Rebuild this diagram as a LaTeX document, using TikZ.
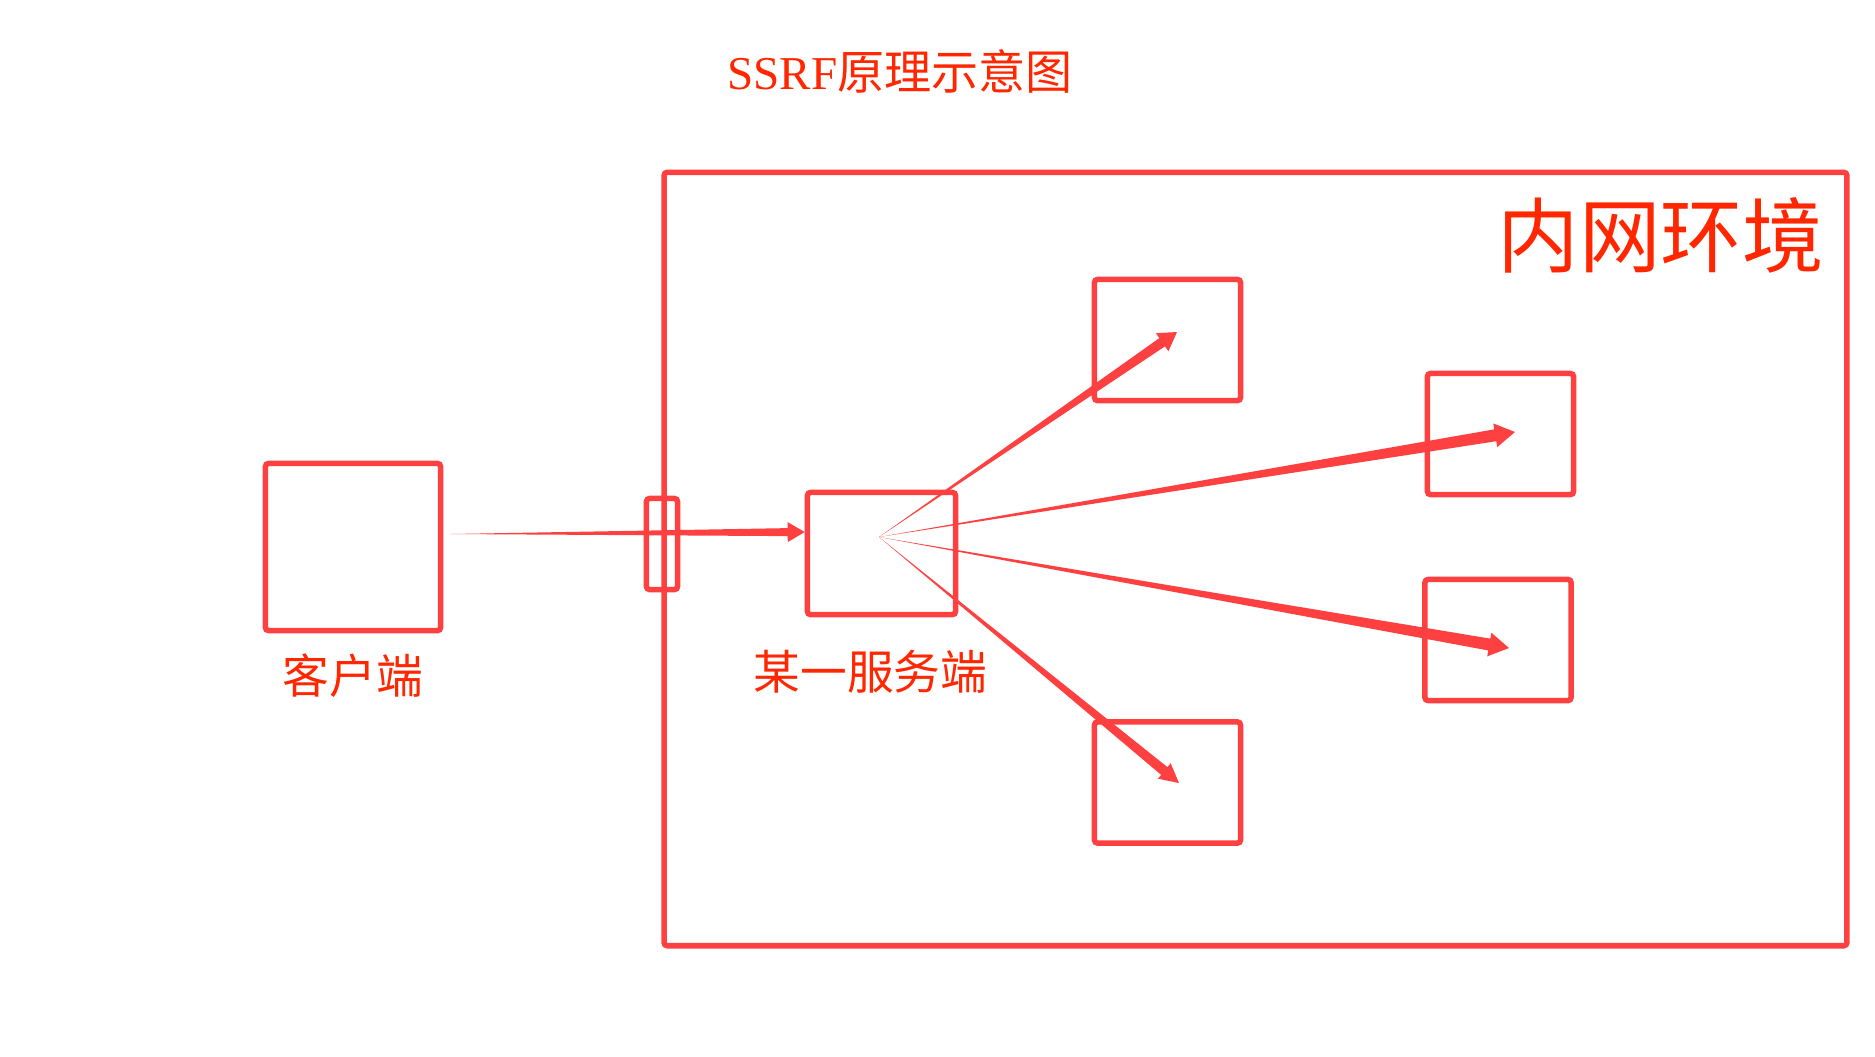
\documentclass[tikz,border=0pt]{standalone}
\usepackage{fontspec}
\setmainfont{Liberation Serif}
\newfontfamily\cjk{Noto Sans CJK SC}
\usetikzlibrary{calc,positioning}
\definecolor{boxred}{RGB}{255,64,64}
\definecolor{textred}{RGB}{255,38,0}
% tapered brush arrow: from, to, shaft half width, head half width, head length
\newcommand\brush[5]{%
  \coordinate (hb) at ($(#2)!#5!(#1)$);
  \fill[boxred] (#1) -- ($(hb)!#3!90:(#2)$) -- ($(hb)!#4!90:(#2)$) -- (#2)
    -- ($(hb)!#4!-90:(#2)$) -- ($(hb)!#3!-90:(#2)$) -- cycle;}
\begin{document}
\begin{tikzpicture}[x=0.01cm,y=-0.01cm,
    box/.style={draw=boxred,line width=0.055cm,rounded corners=0.03cm,inner sep=0pt},
    host/.style={box,minimum width=1.46cm,minimum height=1.21cm},
    tag/.style={text=textred,inner sep=0pt,font=\cjk\fontsize{13.3}{13.3}\selectfont}]
        \useasboundingbox (0,0) rectangle (1875,1056);
        \node[text=textred,font=\fontsize{13.4}{13.4}\selectfont] (title) at (900,71) {SSRF{\cjk 原理示意图}};
        \node[box,minimum width=11.82cm,minimum height=7.73cm] (inner) at (1255.5,559) {};
        \node[tag,anchor=north east,font=\cjk\fontsize{23.2}{23.2}\selectfont] (innername) at ($(inner.north east)+(-25,27)$) {内网环境};
        \node[box,minimum width=0.31cm,minimum height=0.91cm] (gate) at (662,544) {};
        \node[box,minimum width=1.75cm,minimum height=1.67cm] (client) at (353,547) {};
        \node[tag,below=0.2cm of client] (clientname) {客户端};
        \node[box,minimum width=1.48cm,minimum height=1.22cm] (server) at (881.5,553.5) {};
        \node[tag,below=0.32cm of server,xshift=-0.11cm] (servername) {某一服务端};
        \node[host] (hostA) at (1167.5,340) {};
        \node[host] (hostB) at (1500.5,434) {};
        \node[host] (hostC) at (1498,640) {};
        \node[host] (hostD) at (1167.5,782.5) {};
        \coordinate (src) at (450,534);
        \coordinate (fan) at (879,537);
        \coordinate (tip0) at ($(server.west)+(0,-21.5)$);
        \coordinate (tipA) at ($(hostA.center)+(9.5,-8)$);
        \coordinate (tipB) at ($(hostB.center)+(14.5,-2)$);
        \coordinate (tipC) at ($(hostC.center)+(11,8)$);
        \coordinate (tipD) at ($(hostD.center)+(11.5,0.5)$);
        \brush{src}{tip0}{0.04cm}{0.10cm}{0.17cm}
        \brush{fan}{tipA}{0.05cm}{0.11cm}{0.18cm}
        \brush{fan}{tipB}{0.06cm}{0.12cm}{0.20cm}
        \brush{fan}{tipC}{0.06cm}{0.12cm}{0.20cm}
        \brush{fan}{tipD}{0.05cm}{0.10cm}{0.19cm}
\end{tikzpicture}
\end{document}
